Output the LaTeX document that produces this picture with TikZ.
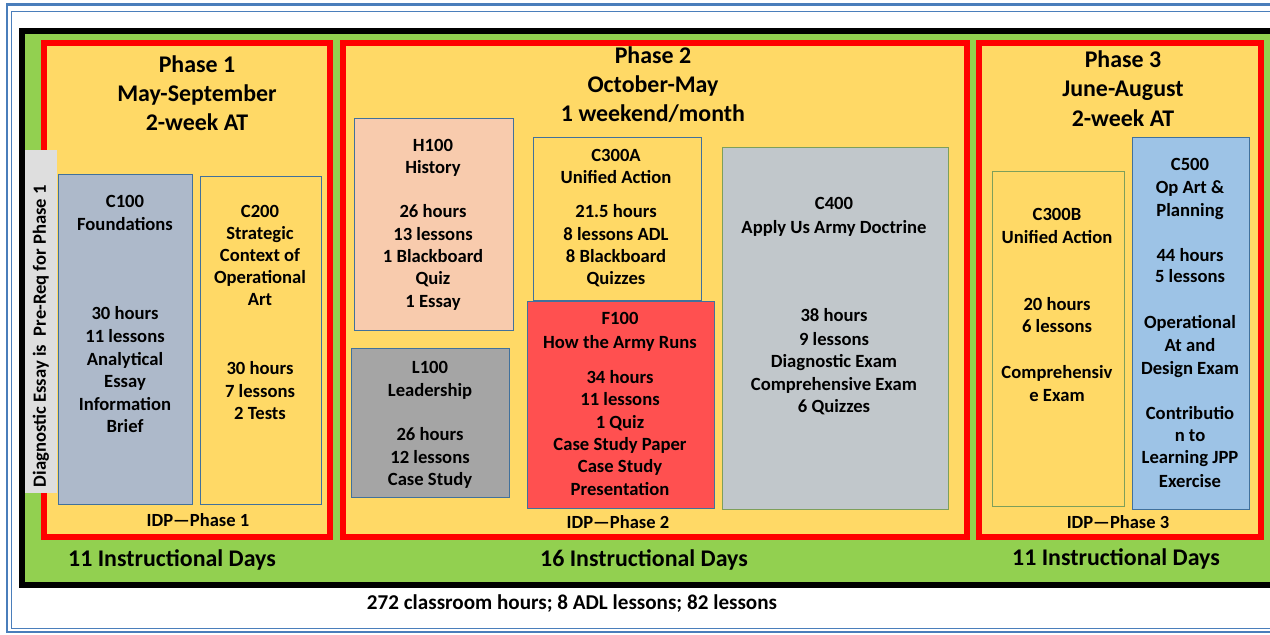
\documentclass[tikz,border=0pt]{standalone}
\usepackage{fontspec}
\setmainfont{Carlito}
\definecolor{yellowF}{HTML}{FFD966}
\definecolor{greenF}{HTML}{92D050}
\definecolor{redF}{HTML}{FF0000}
\definecolor{frameblue}{HTML}{4A7EBB}
\definecolor{bluebd}{HTML}{41719C}
\definecolor{greenbd}{HTML}{7E9F5A}
\definecolor{c100F}{HTML}{ADB9CA}
\definecolor{h100F}{HTML}{F8CBAD}
\definecolor{f100F}{HTML}{FF5050}
\definecolor{l100F}{HTML}{A5A5A5}
\definecolor{c400F}{HTML}{C1C7CB}
\definecolor{c500F}{HTML}{9DC3E6}
\definecolor{diagF}{HTML}{DEDEDE}
\newcommand\boxn[6]{\node[#6, anchor=north west, minimum width={(#4-#2)*1bp}, minimum height={(#5-#3)*1bp}] (#1) at (#2,#3) {};}
\newcommand\txtlines[4]{\foreach \ypos/\ytext [count=\i] in {#4} {\node[#3] (#1\i) at (#2,\ypos) {\ytext};}}
\begin{document}
\begin{tikzpicture}[x=1bp,y=-1bp, every node/.style={inner sep=0pt},
  phasebox/.style={draw=redF, line width=6bp, fill=yellowF},
  course/.style={draw=bluebd, line width=0.9bp},
  coursegreen/.style={draw=greenbd, line width=0.9bp},
  body/.style={font=\fontsize{18.7}{22.5}\selectfont\bfseries, anchor=base, yshift=-6bp},
  ttl/.style={font=\fontsize{24}{29}\selectfont\bfseries, anchor=base, yshift=-8bp},
  idp/.style={font=\fontsize{18.6}{22}\selectfont\bfseries, anchor=base, yshift=-6bp},
  foot/.style={font=\fontsize{21.2}{25}\selectfont\bfseries, anchor=base, yshift=-7bp}]
\useasboundingbox (0,0) rectangle (1270,635);
\fill[white] (0,0) rectangle (1270,635);
% outer page frame
\draw[frameblue, line width=2.5bp] (1275,4.5) -| (7,632) -- (1275,632);
\draw[frameblue, line width=0.8bp] (1275,11) -| (11,628.5) -- (1275,628.5);
% black frame with green
\boxn{frame}{19}{28}{1270}{582}{draw=black, line width=6bp, fill=greenF}
% phases
\boxn{p1}{41}{40}{327}{534}{phasebox}
\boxn{p2}{340}{40}{964}{534}{phasebox}
\boxn{p3}{976}{40}{1258}{534}{phasebox}
% phase 1 boxes
\boxn{diag}{25}{150}{57}{493}{fill=diagF}
\node[body, anchor=center, yshift=0bp, rotate=90] (diagt) at (41,330) {Diagnostic Essay is~~Pre-Req for Phase 1};
\boxn{c100}{58}{174}{192}{504}{course, fill=c100F}
\boxn{c200}{200}{176}{321}{504}{course, fill=yellowF}
% phase 2 boxes
\boxn{h100}{354}{118}{513}{330}{course, fill=h100F}
\boxn{c300a}{533}{137}{701}{300}{course, fill=yellowF}
\boxn{f100}{527}{301}{714}{508}{course, fill=f100F}
\boxn{l100}{351}{348}{509}{497}{course, fill=l100F}
\boxn{c400}{722}{147}{948}{509}{coursegreen, fill=c400F}
% phase 3 boxes
\boxn{c300b}{992}{171}{1124}{506}{coursegreen, fill=yellowF}
\boxn{c500}{1132}{137}{1249}{509}{course, fill=c500F}
% titles
\txtlines{p1t}{197}{ttl}{65/Phase 1, 94/May-September, 123/2-week AT}
\txtlines{p2t}{653}{ttl}{56/Phase 2, 85/October-May, 114/{1 weekend/month}}
\txtlines{p3t}{1123}{ttl}{60/Phase 3, 89/June-August, 119/2-week AT}
% phase 1 texts
\txtlines{c100t}{125}{body}{202/C100, 225/Foundations, 314/30 hours, 336/11 lessons, 359/Analytical, 381/Essay, 404/Information, 426/Brief}
\txtlines{c200t}{260}{body}{212/C200, 234/Strategic, 256/Context of, 278/Operational, 300/Art, 368/30 hours, 391/7 lessons, 413/2 Tests}
% phase 2 texts
\txtlines{h100t}{433}{body}{146/H100, 168/History, 212/26 hours, 235/13 lessons, 257/1 Blackboard, 279/Quiz, 302/1 Essay}
\txtlines{c300at}{616}{body}{156/C300A, 178/Unified Action, 212/21.5 hours, 235/8 lessons ADL, 257/8 Blackboard, 279/Quizzes}
\txtlines{f100t}{620}{body}{319/F100, 342/How the Army Runs, 377/34 hours, 399/11 lessons, 422/1 Quiz, 444/Case Study Paper, 466/Case Study, 489/Presentation}
\txtlines{l100t}{430}{body}{367/L100, 390/Leadership, 434/26 hours, 457/12 lessons, 479/Case Study}
\txtlines{c400t}{834}{body}{204/C400, 228/Apply Us Army Doctrine, 316/38 hours, 339/9 lessons, 361/Diagnostic Exam, 384/Comprehensive Exam, 406/6 Quizzes}
% phase 3 texts
\txtlines{c300bt}{1057}{body}{215/C300B, 238/Unified Action, 305/20 hours, 327/6 lessons, 372/Comprehensiv, 395/e Exam}
\txtlines{c500t}{1190}{body}{165/C500, 188/Op Art \&, 211/Planning, 256/44 hours, 277/5 lessons, 323/Operational, 345/At and, 368/Design Exam, 413/Contributio, 435/n to, 457/Learning JPP, 481/Exercise}
% IDP labels
\node[idp] (idp1) at (198,520) {IDP—Phase 1};
\node[idp] (idp2) at (618,522) {IDP—Phase 2};
\node[idp] (idp3) at (1118,522) {IDP—Phase 3};
% instructional days
\node[ttl] (days1) at (172,558) {11 Instructional Days};
\node[ttl] (days2) at (644,558) {16 Instructional Days};
\node[ttl] (days3) at (1116,557) {11 Instructional Days};
% footer
\node[foot] (foot) at (572,602) {272 classroom hours; 8 ADL lessons; 82 lessons};
\end{tikzpicture}
\end{document}
